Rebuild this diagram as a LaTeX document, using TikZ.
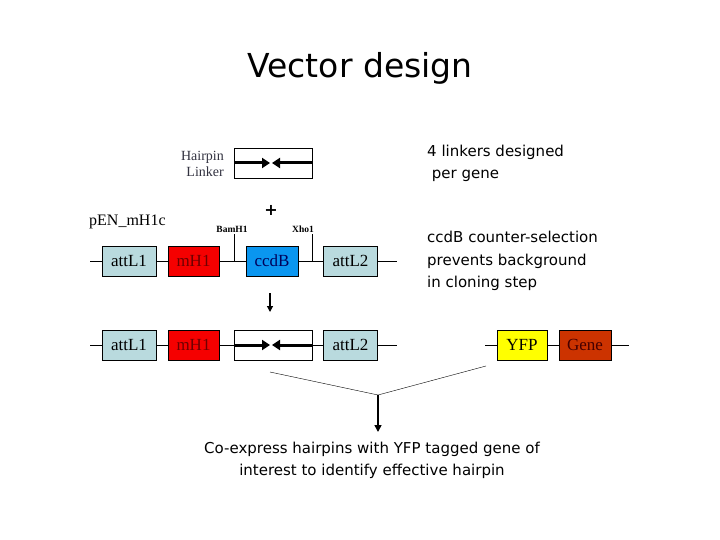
\documentclass[tikz,border=0pt]{standalone}
\usepackage{fontspec}
\setmainfont{Liberation Serif}
\newfontfamily\comicfont{DejaVu Sans}
\usetikzlibrary{arrows.meta}

\definecolor{attblue}{RGB}{185,218,222}
\definecolor{mhred}{RGB}{245,0,0}
\definecolor{mhtext}{RGB}{110,0,0}
\definecolor{ccdblue}{RGB}{10,150,240}
\definecolor{ccdtext}{RGB}{0,0,90}
\definecolor{yfpyellow}{RGB}{255,255,0}
\definecolor{genered}{RGB}{204,51,0}
\definecolor{genetext}{RGB}{70,0,0}
\definecolor{labelgray}{RGB}{50,50,64}

\tikzset{
    part/.style={draw, minimum height=30pt, inner sep=0pt,
        font=\fontsize{17}{17}\selectfont},
    attbox/.style={part, fill=attblue, minimum width=54pt},
    mhbox/.style={part, fill=mhred, text=mhtext, minimum width=51pt},
    ccdbox/.style={part, fill=ccdblue, text=ccdtext, minimum width=52pt},
    linkbox/.style={part, fill=white, minimum width=78pt},
    yfpbox/.style={part, fill=yfpyellow, minimum width=50pt},
    genebox/.style={part, fill=genered, text=genetext, minimum width=52pt},
    hp/.style={line width=3pt, -{Triangle[length=8pt,width=10pt]}},
    site/.style={font=\bfseries\fontsize{9.5}{9.5}\selectfont, inner sep=1pt},
    comic/.style={font=\comicfont\fontsize{15}{22}\selectfont, inner sep=0pt},
}

\begin{document}
\begin{tikzpicture}[x=1pt, y=-1pt]
    \useasboundingbox
        (0,0) rectangle (720,540)
        ;

    \node [font=\comicfont\fontsize{33}{33}\selectfont, anchor=base]
        (title) at (360,78) {Vector design};

    % hairpin linker
    \node [linkbox] (linkA) at (273,163) {};
    \node [anchor=east, align=right, text=labelgray, inner sep=0pt,
        font=\fontsize{14}{16}\selectfont]
        (hairpin) at (224,164) {Hairpin\\Linker};

    \node [font=\comicfont\bfseries\fontsize{16}{16}\selectfont]
        (plus) at (271,210) {+};

    \node [anchor=west, inner sep=0pt, font=\fontsize{16}{16}\selectfont]
        (vector) at (89,222) {pEN\_mH1c};

    % entry vector
    \node [attbox] (attLa) at (129,261) {attL1};
    \node [mhbox] (mHa) at (193.5,261) {mH1};
    \node [ccdbox] (ccdB) at (272,261) {ccdB};
    \node [attbox] (attLb) at (350.5,261) {attL2};

    \coordinate (rowAin) at (90,261);
    \coordinate (rowAout) at (397,261);
    \draw
        (rowAin) -- (attLa) -- (mHa) -- (ccdB) -- (attLb) -- (rowAout)
        ;

    \coordinate (bam) at (234,234);
    \coordinate (xho) at (312,234);
    \draw
        (bam) -- (bam |- ccdB)
            node [site, pos=0, above, xshift=-2pt] {BamH1}
        ;
    \draw
        (xho) -- (xho |- ccdB)
            node [site, pos=0, above, xshift=-9pt] {Xho1}
        ;

    \coordinate (dnA) at (270,293);
    \coordinate (dnB) at (270,312);
    \draw [line width=1.2pt, -{Triangle[length=6pt,width=6pt]}]
        (dnA) -- (dnB)
        ;

    % hairpin vector
    \node [attbox] (attLc) at (129,345) {attL1};
    \node [mhbox] (mHb) at (193.5,345) {mH1};
    \node [linkbox] (linkB) at (273,345) {};
    \node [attbox] (attLd) at (350.5,345) {attL2};

    \coordinate (rowBin) at (90,345);
    \coordinate (rowBout) at (397,345);
    \draw
        (rowBin) -- (attLc) -- (mHb) -- (linkB) -- (attLd) -- (rowBout)
        ;

    \foreach \lk in {linkA, linkB} {
        \draw [hp] (\lk.west) -- ([xshift=-3pt]\lk.center);
        \draw [hp] (\lk.east) -- ([xshift=-1pt]\lk.center);
    }

    % tagged gene
    \node [yfpbox] (yfp) at (522,345) {YFP};
    \node [genebox] (gene) at (585,345) {Gene};

    \coordinate (rowCin) at (485,345);
    \coordinate (rowCout) at (629,345);
    \draw
        (rowCin) -- (yfp) -- (gene) -- (rowCout)
        ;

    % co-expression
    \coordinate (vl) at (270,372);
    \coordinate (vr) at (486,366);
    \coordinate (vm) at (378,395);
    \coordinate (vend) at (378,432);
    \draw
        (vl) -- (vm) -- (vr)
        ;
    \draw [line width=1.6pt, -{Triangle[length=7pt,width=7pt]}]
        (vm) -- (vend)
        ;

    % notes
    \node [comic, anchor=base west, align=left]
        (linkers) at (427,179) {4 linkers designed\\\ per gene};
    \node [comic, anchor=base west, align=left]
        (ccdnote) at (427,287) {ccdB counter-selection\\prevents background\\in cloning step};
    \node [comic, anchor=base, align=center]
        (coexp) at (372,475) {Co-express hairpins with YFP tagged gene of\\interest to identify effective hairpin};
\end{tikzpicture}
\end{document}
